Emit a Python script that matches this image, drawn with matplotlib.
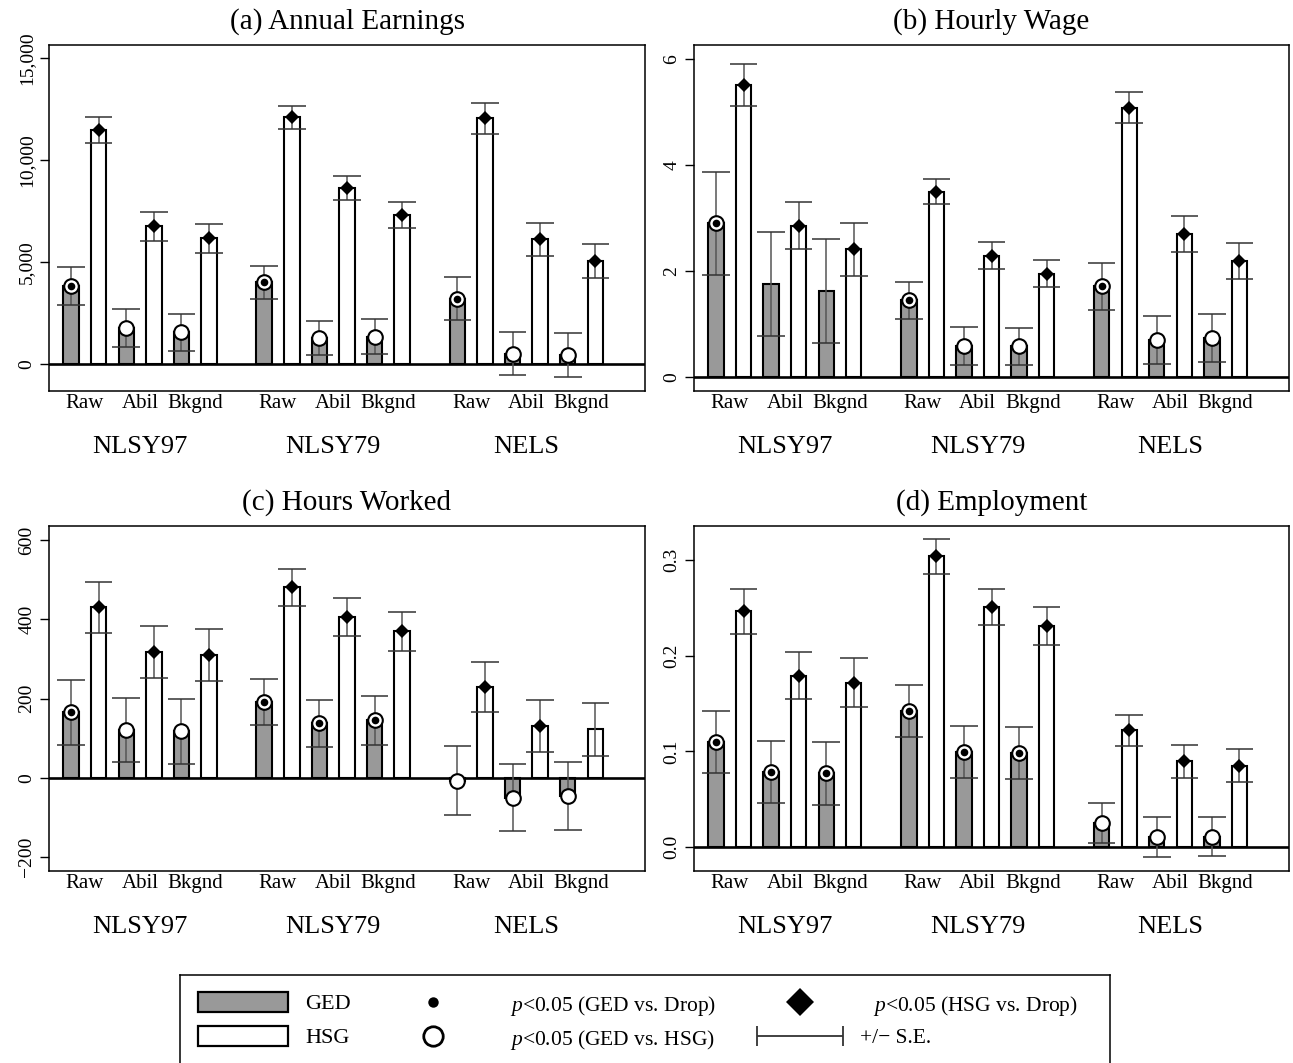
import matplotlib
matplotlib.use("Agg")
import matplotlib.pyplot as plt
from matplotlib.patches import Rectangle
from matplotlib.transforms import blended_transform_factory
import numpy as np

plt.rcParams['font.family'] = ['Liberation Serif', 'DejaVu Serif']
plt.rcParams['mathtext.fontset'] = 'custom'
plt.rcParams['mathtext.rm'] = 'Liberation Serif'
plt.rcParams['mathtext.it'] = 'Liberation Serif:italic'

# ---------------------------------------------------------------- data
groups = ['NLSY97', 'NLSY79', 'NELS']
specs = ['Raw', 'Abil', 'Bkgnd']

# (a) Annual earnings
earn_ged = [3830, 1750, 1545, 4010, 1285, 1340, 3195, 505, 450]
earn_ged_se = [940, 930, 925, 810, 840, 865, 1055, 1060, 1070]
earn_hsg = [11480, 6740, 6170, 12090, 8610, 7300, 12035, 6110, 5035]
earn_hsg_se = [640, 695, 710, 570, 590, 645, 775, 815, 835]
earn_ged_drop = [1, 0, 0, 1, 0, 0, 1, 0, 0]
earn_ged_hsg = [1, 1, 1, 1, 1, 1, 1, 1, 1]
earn_hsg_drop = [1, 1, 1, 1, 1, 1, 1, 1, 1]

# (b) Hourly wage
wage_ged = [2.90, 1.76, 1.62, 1.445, 0.58, 0.58, 1.71, 0.694, 0.738]
wage_ged_se = [0.97, 0.98, 0.98, 0.347, 0.356, 0.35, 0.44, 0.453, 0.46]
wage_hsg = [5.515, 2.86, 2.41, 3.50, 2.29, 1.945, 5.086, 2.70, 2.185]
wage_hsg_se = [0.405, 0.45, 0.50, 0.23, 0.25, 0.255, 0.29, 0.347, 0.337]
wage_ged_drop = [1, 0, 0, 1, 0, 0, 1, 0, 0]
wage_ged_hsg = [1, 0, 0, 1, 1, 1, 1, 1, 1]
wage_hsg_drop = [1, 1, 1, 1, 1, 1, 1, 1, 1]

# (c) Hours worked
hours_ged = [165, 120, 117, 191, 137, 145.5, -7.5, -50, -45]
hours_ged_se = [81, 81, 81, 59, 60, 61.5, 86.5, 85, 86]
hours_hsg = [430, 317, 309.5, 480, 405, 369, 228.5, 130, 122]
hours_hsg_se = [64, 66, 66, 46, 48, 48, 63.5, 66, 67]
hours_ged_drop = [1, 0, 0, 1, 1, 1, 0, 0, 0]
hours_ged_hsg = [1, 1, 1, 1, 1, 1, 1, 1, 1]
hours_hsg_drop = [1, 1, 1, 1, 1, 1, 1, 1, 0]

# (d) Employment
emp_ged = [0.110, 0.0786, 0.0769, 0.1425, 0.0994, 0.0987, 0.0249, 0.0106, 0.011]
emp_ged_se = [0.0326, 0.0326, 0.0326, 0.027, 0.0268, 0.0272, 0.0207, 0.0211, 0.0207]
emp_hsg = [0.2465, 0.179, 0.1716, 0.3036, 0.251, 0.2307, 0.1219, 0.0894, 0.0849]
emp_hsg_se = [0.0235, 0.0248, 0.0255, 0.0183, 0.019, 0.020, 0.0159, 0.0169, 0.0173]
emp_ged_drop = [1, 1, 1, 1, 1, 1, 0, 0, 0]
emp_ged_hsg = [1, 1, 1, 1, 1, 1, 1, 1, 1]
emp_hsg_drop = [1, 1, 1, 1, 1, 1, 1, 1, 1]

# ---------------------------------------------------------------- layout
W, H = 1293, 1063
fig = plt.figure(figsize=(W / 100, H / 100), dpi=100)


def px_axes(left, top, right, bottom):
    return fig.add_axes([left / W, 1 - bottom / H, (right - left) / W, (bottom - top) / H])


GED_FILL = '#999999'
BAR_W = 0.56
CAP = 0.5


def draw_panel(ax, title, ged, ged_se, hsg, hsg_se, ged_drop, ged_hsg, hsg_drop,
               ylim, yticks, yticklabels):
    pos_ged = np.array([7 * g + 2 * j for g in range(3) for j in range(3)], float)
    pos_hsg = pos_ged + 1
    ged = np.asarray(ged, float)
    hsg = np.asarray(hsg, float)
    ged_se = np.asarray(ged_se, float)
    hsg_se = np.asarray(hsg_se, float)

    ax.bar(pos_ged, ged, width=BAR_W, color=GED_FILL, edgecolor='black',
           linewidth=1.5, zorder=2)
    ax.bar(pos_hsg, hsg, width=BAR_W, color='white', edgecolor='black',
           linewidth=1.5, zorder=2)
    ax.axhline(0, color='black', lw=1.9, zorder=3)

    # +/- one standard error
    for pos, val, se in ((pos_ged, ged, ged_se), (pos_hsg, hsg, hsg_se)):
        ax.vlines(pos, val - se, val + se, color='#555555', lw=1.1, zorder=4)
        ax.hlines(val + se, pos - CAP, pos + CAP, color='#333333', lw=1.1, zorder=4)
        ax.hlines(val - se, pos - CAP, pos + CAP, color='#333333', lw=1.1, zorder=4)

    # significance markers
    gh = np.asarray(ged_hsg, bool)
    gd = np.asarray(ged_drop, bool)
    hd = np.asarray(hsg_drop, bool)
    ax.plot(pos_ged[gh], ged[gh], 'o', ms=10.5, mfc='white', mec='black', mew=1.5,
            zorder=5, ls='none')
    ax.plot(pos_ged[gd], ged[gd], 'o', ms=5.5, mfc='black', mec='black', mew=0,
            zorder=6, ls='none')
    ax.plot(pos_hsg[hd], hsg[hd], 'D', ms=7, mfc='black', mec='black', mew=0,
            zorder=6, ls='none')

    ax.set_xlim(-0.8, 20.8)
    ax.set_ylim(*ylim)
    ax.set_title(title, fontsize=21, pad=12)

    mids = np.array([7 * g + 2 * j + 0.5 for g in range(3) for j in range(3)])
    ax.set_xticks(mids)
    ax.set_xticklabels(specs * 3, fontsize=15)
    ax.tick_params(axis='x', length=0, pad=2)

    ax.set_yticks(yticks)
    ax.set_yticklabels(yticklabels, fontsize=14)
    ax.tick_params(axis='y', length=6.3, width=1.0, pad=3.5, direction='out')
    for lbl in ax.get_yticklabels():
        lbl.set_rotation(90)
        lbl.set_va('center')

    for sp in ax.spines.values():
        sp.set_linewidth(1.1)
        sp.set_color('black')

    tr = blended_transform_factory(ax.transData, ax.transAxes)
    for g, name in enumerate(groups):
        ax.text(7 * g + 2.5, -0.18, name, transform=tr, ha='center', va='baseline',
                fontsize=19)


ax_a = px_axes(49, 45, 645, 391)
draw_panel(ax_a, '(a) Annual Earnings', earn_ged, earn_ged_se, earn_hsg, earn_hsg_se,
           earn_ged_drop, earn_ged_hsg, earn_hsg_drop, (-1324, 15637),
           [0, 5000, 10000, 15000], ['0', '5,000', '10,000', '15,000'])

ax_b = px_axes(694, 45, 1289, 391)
draw_panel(ax_b, '(b) Hourly Wage', wage_ged, wage_ged_se, wage_hsg, wage_hsg_se,
           wage_ged_drop, wage_ged_hsg, wage_hsg_drop, (-0.265, 6.27),
           [0, 2, 4, 6], ['0', '2', '4', '6'])

ax_c = px_axes(49, 526, 645, 871)
draw_panel(ax_c, '(c) Hours Worked', hours_ged, hours_ged_se, hours_hsg, hours_hsg_se,
           hours_ged_drop, hours_ged_hsg, hours_hsg_drop, (-235, 635),
           [-200, 0, 200, 400, 600], ['\u2212200', '0', '200', '400', '600'])

ax_d = px_axes(694, 526, 1289, 871)
draw_panel(ax_d, '(d) Employment', emp_ged, emp_ged_se, emp_hsg, emp_hsg_se,
           emp_ged_drop, emp_ged_hsg, emp_hsg_drop, (-0.025, 0.3354),
           [0.0, 0.1, 0.2, 0.3], ['0.0', '0.1', '0.2', '0.3'])

# ---------------------------------------------------------------- legend
lg = px_axes(180, 975, 1110, 1068)
lg.set_xlim(0, 930)
lg.set_ylim(93, 0)
lg.set_xticks([])
lg.set_yticks([])
for sp in lg.spines.values():
    sp.set_linewidth(1.1)
    sp.set_color('black')

r1, r2 = 27, 61
lfs = 15.5
lg.add_patch(Rectangle((18, r1 - 10), 90, 20, facecolor=GED_FILL, edgecolor='black', lw=1.6))
lg.add_patch(Rectangle((18, r2 - 10), 90, 20, facecolor='white', edgecolor='black', lw=1.6))
lg.text(125, r1, 'GED', va='center_baseline', fontsize=16)
lg.text(125, r2, 'HSG', va='center_baseline', fontsize=16)
lg.plot([253], [r1], 'o', ms=7.5, mfc='black', mec='black', mew=0)
lg.plot([253], [r2], 'o', ms=14, mfc='white', mec='black', mew=2)
lg.text(330, r1, r'$p$<0.05 (GED vs. Drop)', va='center_baseline', fontsize=lfs)
lg.text(330, r2, r'$p$<0.05 (GED vs. HSG)', va='center_baseline', fontsize=lfs)
lg.plot([620], [r1], 'D', ms=14, mfc='black', mec='black', mew=0)
lg.text(693, r1, r'$p$<0.05 (HSG vs. Drop)', va='center_baseline', fontsize=lfs)
lg.hlines(r2, 577, 663, color='#333333', lw=1.3)
lg.vlines([577, 663], r2 - 10, r2 + 10, color='#333333', lw=1.3)
lg.text(680, r2, '+/\u2212 S.E.', va='center_baseline', fontsize=lfs)

fig.savefig('out.png', dpi=100)
